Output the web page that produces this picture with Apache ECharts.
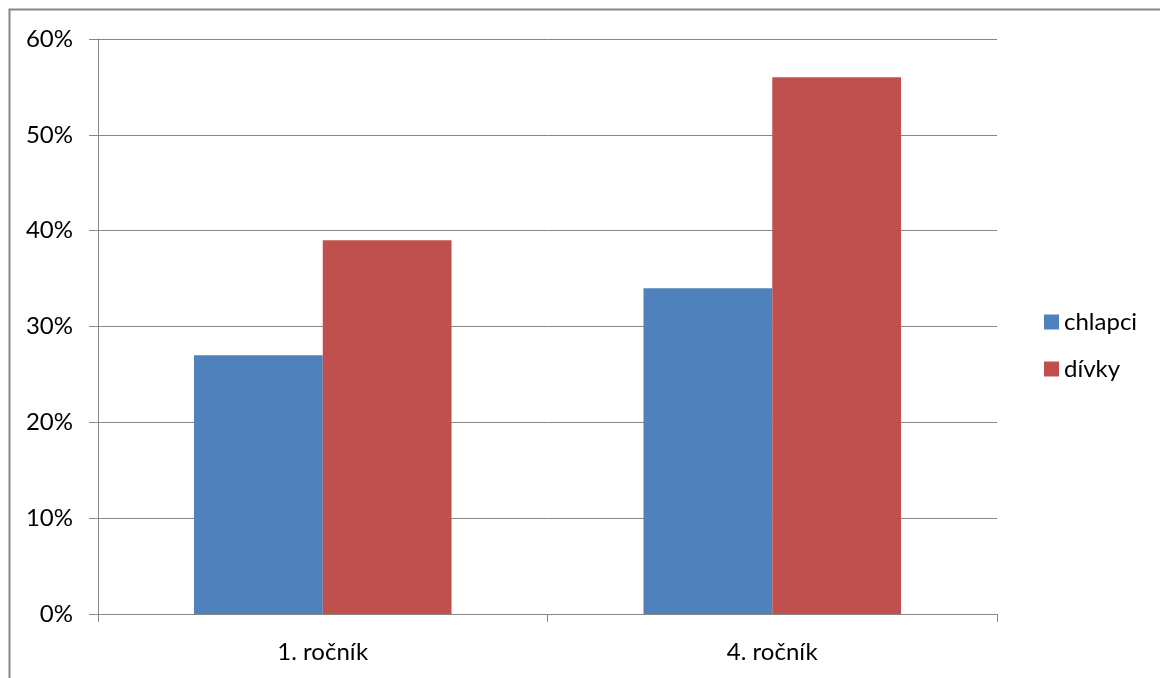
<!DOCTYPE html>
<html><head><meta charset="utf-8">
<script src="https://cdn.jsdelivr.net/npm/echarts@6/dist/echarts.min.js"></script>
<style>html,body{margin:0;padding:0;background:#fff}#c{width:1160px;height:678px}</style>
</head><body><div id="c"></div>
<script>
const categories = ['1. ročník', '4. ročník'];
const seriesNames = ['chlapci', 'dívky'];
const chlapci = [27, 34];
const divky = [39, 56];
const colors = ['#4F81BD', '#C0504D'];
const font = 'Lato, "Open Sans", sans-serif';
const chart = echarts.init(document.getElementById('c'), null, {renderer: 'canvas'});
chart.setOption({
  animation: false,
  backgroundColor: '#fff',
  graphic: [{type: 'rect', shape: {x: 9.5, y: 9.5, width: 1200, height: 700}, style: {fill: 'none', stroke: '#868686', lineWidth: 2}, z: -1}],
  grid: {left: 98, right: 163, top: 39, bottom: 64, containLabel: false},
  legend: {
    orient: 'vertical', left: 1039, top: 305, itemWidth: 15, itemHeight: 15, itemGap: 23,
    icon: 'rect', textStyle: {fontFamily: font, fontSize: 24, lineHeight: 24, color: '#000', padding: [0, 0, 0, 0]},
    data: seriesNames
  },
  xAxis: {
    type: 'category', data: categories,
    axisLine: {lineStyle: {color: '#868686', width: 1}},
    axisTick: {show: true, length: 8, lineStyle: {color: '#868686'}},
    axisLabel: {fontFamily: font, fontSize: 24, color: '#000', margin: 26}
  },
  yAxis: {
    type: 'value', min: 0, max: 60, interval: 10,
    axisLine: {show: true, lineStyle: {color: '#868686'}},
    axisTick: {show: true, length: 9, lineStyle: {color: '#868686'}},
    splitLine: {lineStyle: {color: '#868686'}},
    axisLabel: {fontFamily: font, fontSize: 24, color: '#000', margin: 25, formatter: '{value}%'}
  },
  series: [
    {name: seriesNames[0], type: 'bar', data: chlapci, itemStyle: {color: colors[0]}, barGap: '0%', barCategoryGap: '42.7%'},
    {name: seriesNames[1], type: 'bar', data: divky, itemStyle: {color: colors[1]}, barGap: '0%', barCategoryGap: '42.7%'}
  ]
});
</script></body></html>
